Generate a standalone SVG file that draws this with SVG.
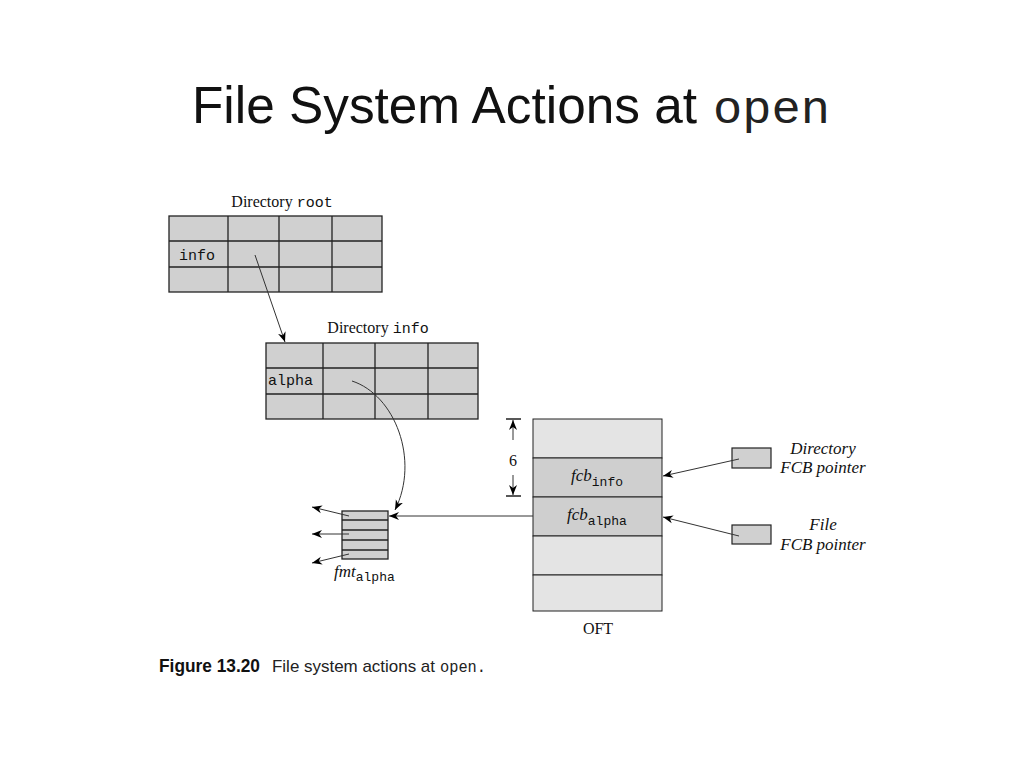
<svg xmlns="http://www.w3.org/2000/svg" width="1024" height="768" viewBox="0 0 1024 768">
<defs>
<marker id="ah" viewBox="0 0 10 10" refX="10" refY="5" markerWidth="10" markerHeight="10" markerUnits="userSpaceOnUse" orient="auto">
<path d="M0,1 L10,5 L0,9 L3,5 Z" fill="#000"/>
</marker>
</defs>
<style>
.cell{fill:#d0d0d0;stroke:#222;stroke-width:1.3}
.grid{stroke:#222;stroke-width:1.3;fill:none}
.lab{font-family:"Liberation Serif",serif;font-size:16px;fill:#111}
.ital{font-family:"Liberation Serif",serif;font-style:italic;font-size:17px;fill:#111}
.mono{font-family:"Liberation Mono",monospace;font-size:15px;fill:#111;font-style:normal}
.sub{font-family:"Liberation Mono",monospace;font-size:13px;fill:#111;font-style:normal;font-weight:normal}
.conn{stroke:#333;stroke-width:1;fill:none;marker-end:url(#ah)}
</style>
<rect width="1024" height="768" fill="#fff"/>
<g id="title">
<text x="192" y="123" font-family="Liberation Sans,Arial,sans-serif" font-size="52" fill="#111" textLength="505" lengthAdjust="spacingAndGlyphs">File System Actions at</text>
<text x="713" y="123" font-family="Liberation Mono,monospace" font-size="46" fill="#222" textLength="117" lengthAdjust="spacingAndGlyphs">open</text>
</g>
<g id="dir-root">
<text class="lab" x="282" y="207" text-anchor="middle">Directory <tspan class="mono">root</tspan></text>
<rect class="cell" x="169" y="216" width="213" height="76"/>
<path class="grid" d="M169,241H382M169,267H382M228,216V292M279,216V292M332,216V292"/>
<text class="mono" x="179" y="260">info</text>
</g>
<g id="dir-info">
<text class="lab" x="378" y="333" text-anchor="middle">Directory <tspan class="mono">info</tspan></text>
<rect class="cell" x="266" y="343" width="212" height="76"/>
<path class="grid" d="M266,368H478M266,394H478M323,343V419M375,343V419M428,343V419"/>
<text class="mono" x="268" y="385">alpha</text>
</g>
<g id="fmt">
<rect x="342" y="511" width="46" height="48" fill="#d0d0d0" stroke="#222" stroke-width="1.3"/>
<path class="grid" d="M342,520H388M342,530H388M342,540H388M342,550H388"/>
<text class="ital" x="334" y="577">fmt<tspan class="sub" dy="4">alpha</tspan></text>
</g>
<g id="oft">
<rect x="533" y="419" width="129" height="39" fill="#e4e4e4" stroke="#222" stroke-width="1"/>
<rect x="533" y="458" width="129" height="39" fill="#cfcfcf" stroke="#222" stroke-width="1"/>
<rect x="533" y="497" width="129" height="39" fill="#cfcfcf" stroke="#222" stroke-width="1"/>
<rect x="533" y="536" width="129" height="39" fill="#e4e4e4" stroke="#222" stroke-width="1"/>
<rect x="533" y="575" width="129" height="36" fill="#e4e4e4" stroke="#222" stroke-width="1"/>
<text class="ital" x="571" y="481">fcb<tspan class="sub" dy="5">info</tspan></text>
<text class="ital" x="567" y="520">fcb<tspan class="sub" dy="5">alpha</tspan></text>
<text class="lab" x="598" y="634" text-anchor="middle">OFT</text>
</g>
<g id="dim6">
<path d="M506,419H521M506,496H521" stroke="#222" stroke-width="1.3"/>
<path d="M513,440V420" class="conn"/>
<path d="M513,475V495" class="conn"/>
<text class="lab" x="513" y="466" text-anchor="middle">6</text>
</g>
<g id="dir-ptr">
<rect x="732" y="448" width="39" height="20" fill="#d0d0d0" stroke="#222" stroke-width="1.2"/>
<text class="ital" x="823" y="454" text-anchor="middle">Directory</text>
<text class="ital" x="823" y="473" text-anchor="middle">FCB pointer</text>
</g>
<g id="file-ptr">
<rect x="732" y="525" width="39" height="19" fill="#d0d0d0" stroke="#222" stroke-width="1.2"/>
<text class="ital" x="823" y="530" text-anchor="middle">File</text>
<text class="ital" x="823" y="550" text-anchor="middle">FCB pointer</text>
</g>
<g id="connectors">
<path class="conn" d="M255,255L285,342"/>
<path class="conn" d="M352,381C395,395 420,460 395,510"/>
<path class="conn" d="M533,516H389"/>
<path class="conn" d="M349,516L312,507"/>
<path class="conn" d="M349,534H312"/>
<path class="conn" d="M349,554L312,563"/>
<path class="conn" d="M739,459L663,476"/>
<path class="conn" d="M739,536L663,517"/>
</g>
<g id="caption">
<text x="159" y="672" font-family="Liberation Sans,Arial,sans-serif" font-size="18" font-weight="bold" fill="#111" textLength="101" lengthAdjust="spacingAndGlyphs">Figure 13.20</text>
<text x="272" y="672" font-family="Liberation Sans,Arial,sans-serif" font-size="17" fill="#222" textLength="163" lengthAdjust="spacingAndGlyphs">File system actions at</text>
<text x="440" y="672" font-family="Liberation Mono,monospace" font-size="16" fill="#222" textLength="46" lengthAdjust="spacingAndGlyphs">open.</text>
</g>
</svg>
